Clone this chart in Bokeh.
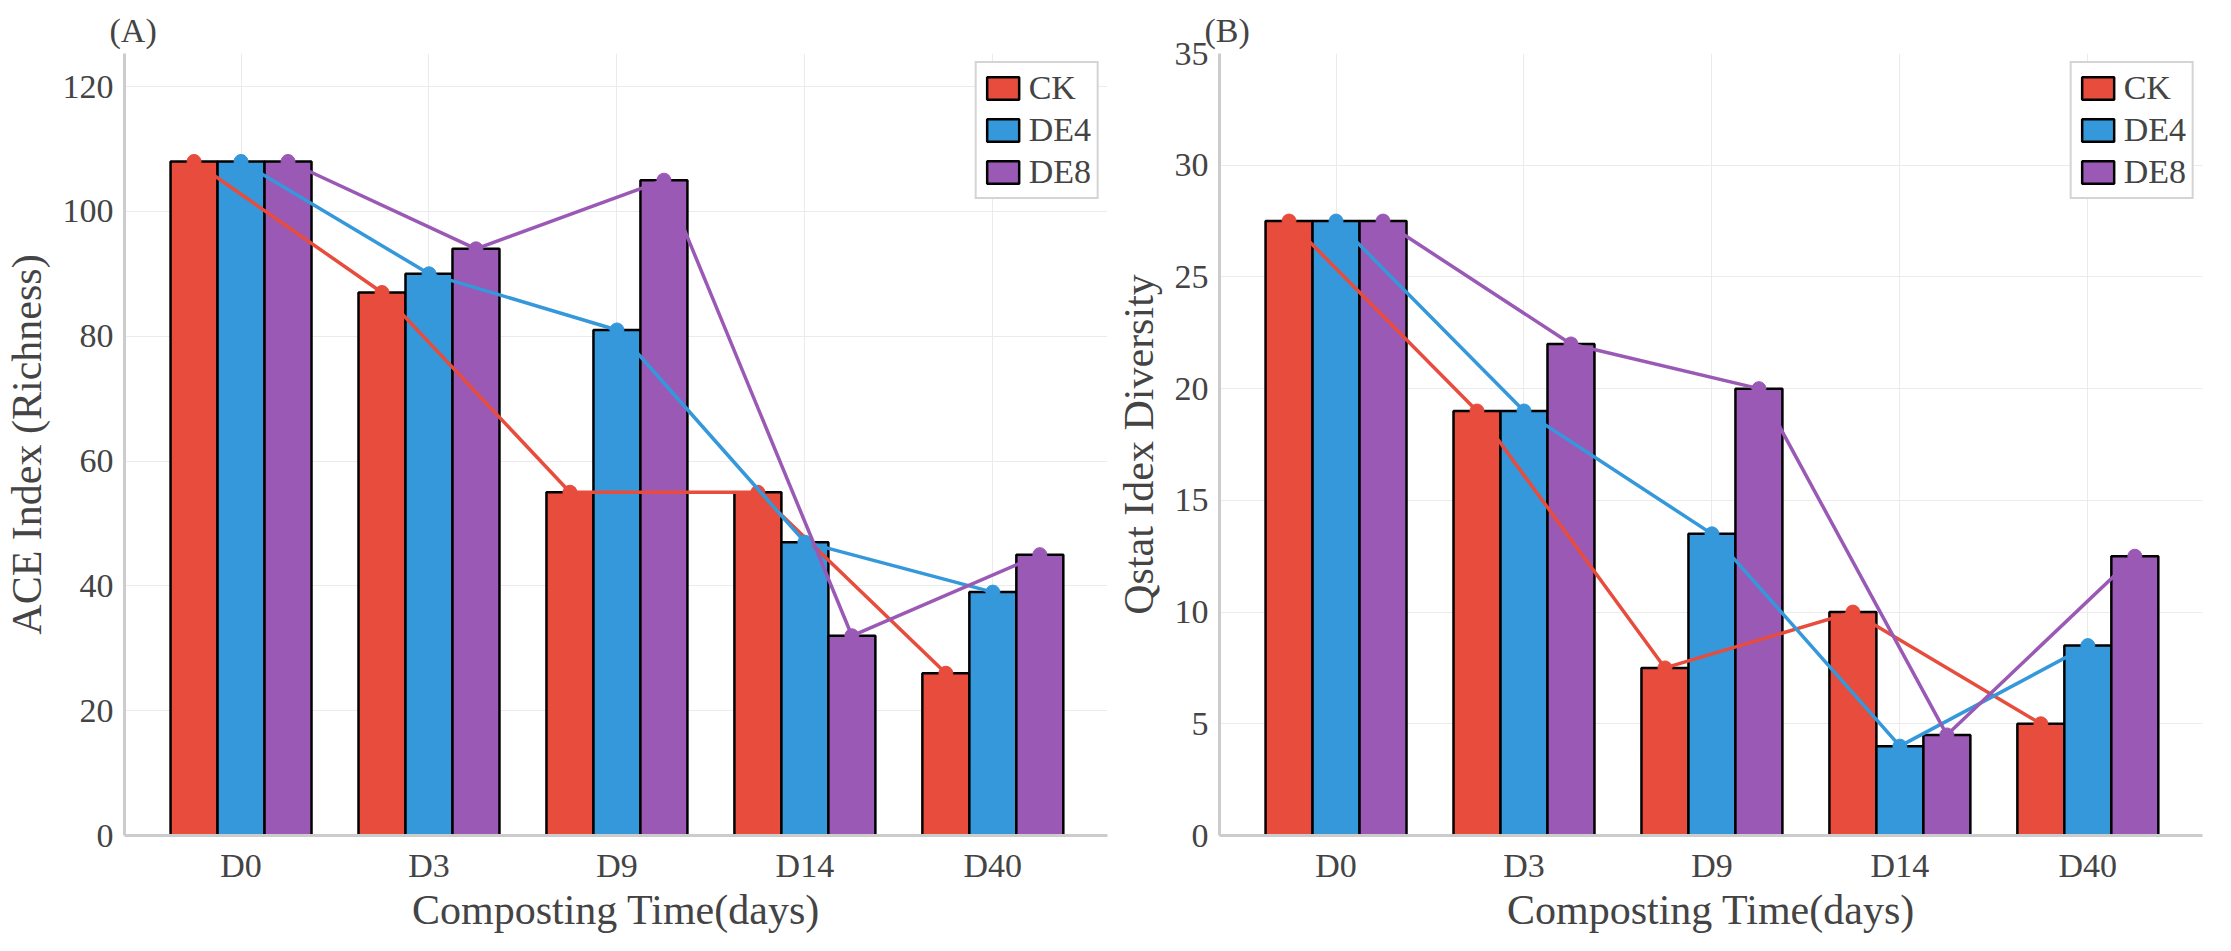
from bokeh.plotting import figure
from bokeh.layouts import row
from bokeh.models import Range1d, FixedTicker, Legend, LegendItem
from bokeh.embed import file_html
from bokeh.resources import INLINE

days = ["D0", "D3", "D9", "D14", "D40"]
series = ["CK", "DE4", "DE8"]
colors = ["#e74c3c", "#3498db", "#9b59b6"]
ace_ck = [108, 87, 55, 55, 26]
ace_de4 = [108, 90, 81, 47, 39]
ace_de8 = [108, 94, 105, 32, 45]
q_ck = [27.5, 19, 7.5, 10, 5]
q_de4 = [27.5, 19, 13.5, 4, 8.5]
q_de8 = [27.5, 22, 20, 4.5, 12.5]

FONT = "Liberation Serif"

def make(data, ylab, title, ytop, yticks, width, bl, br):
    p = figure(width=width, height=935, output_backend="svg", toolbar_location=None,
               x_range=Range1d(-0.62, 4.61), y_range=Range1d(0, ytop),
               min_border_left=bl, min_border_right=br, min_border_top=53, min_border_bottom=99)
    p.title.text = title
    p.title.text_font = FONT
    p.title.text_font_size = "34px"
    p.title.text_font_style = "normal"
    p.title.offset = -15
    xs = list(range(len(days)))
    items = []
    offs = [-0.25, 0, 0.25]
    for vals, name, c, o in zip(data, series, colors, offs):
        bx = [x + o for x in xs]
        r = p.vbar(x=bx, top=vals, width=0.25, fill_color=c, line_color="black", line_width=2.5)
        items.append(LegendItem(label=name, renderers=[r]))
    for vals, c, o in zip(data, colors, offs):
        bx = [x + o for x in xs]
        p.line(bx, vals, line_color=c, line_width=3.5)
        p.scatter(bx, vals, size=14, fill_color=c, line_color=c)
    p.xaxis.ticker = FixedTicker(ticks=xs)
    p.xaxis.major_label_overrides = {i: d for i, d in enumerate(days)}
    p.yaxis.ticker = FixedTicker(ticks=yticks)
    for ax in (p.xaxis, p.yaxis):
        ax.major_label_text_font = FONT
        ax.major_label_text_font_size = "34px"
        ax.axis_label_text_font = FONT
        ax.axis_label_text_font_size = "42px"
        ax.axis_label_text_font_style = "normal"
        ax.major_tick_line_color = None
        ax.minor_tick_line_color = None
        ax.axis_line_color = "#cccccc"
        ax.axis_line_width = 3
    p.xaxis.axis_label = "Composting Time(days)"
    p.xaxis.axis_label_standoff = 0
    p.yaxis.axis_label = ylab
    p.yaxis.axis_label_standoff = 10
    p.xgrid.ticker = FixedTicker(ticks=xs)
    p.grid.grid_line_color = "#ebebeb"
    p.outline_line_color = None
    leg = Legend(items=items, location="top_right", label_text_font=FONT,
                 label_text_font_size="34px", border_line_color="#aaaaaa",
                 border_line_width=2, glyph_width=40, glyph_height=28,
                 spacing=4, padding=6, margin=8, label_standoff=6)
    p.add_layout(leg)
    return p

pa = make([ace_ck, ace_de4, ace_de8], "ACE Index (Richness)", "(A)", 125.3,
          [0, 20, 40, 60, 80, 100, 120], 1110, 121, 3)
pb = make([q_ck, q_de4, q_de8], "Qstat Idex Diversity", "(B)", 35,
          [0, 5, 10, 15, 20, 25, 30, 35], 1105, 109, 13)
open("out.html", "w").write(file_html(row(pa, pb), INLINE))
